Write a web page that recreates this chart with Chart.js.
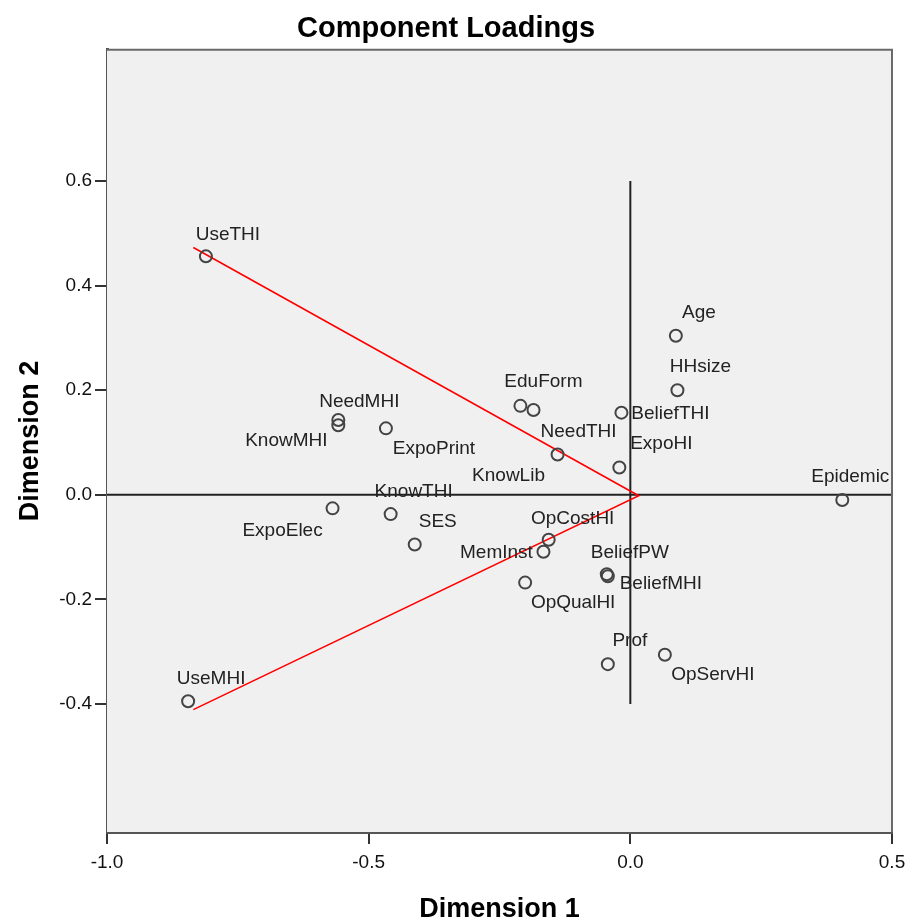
<!DOCTYPE html>
<html lang="en">
<head>
<meta charset="UTF-8">
<title>Component Loadings</title>
<script src="https://cdn.jsdelivr.net/npm/chart.js"></script>
<style>
  html, body { margin: 0; padding: 0; background: #fff; }
</style>
</head>
<body>
<canvas id="loadingsChart" width="907" height="922"></canvas>
<script>
// Variables and their loadings on the two dimensions
const variables = ['UseTHI', 'UseMHI', 'NeedMHI', 'KnowMHI', 'ExpoPrint', 'ExpoElec', 'KnowTHI', 'SES',
    'EduForm', 'KnowLib', 'NeedTHI', 'ExpoHI', 'BeliefTHI', 'Age', 'HHsize', 'Epidemic',
    'OpCostHI', 'MemInst', 'BeliefPW', 'BeliefMHI', 'OpQualHI', 'Prof', 'OpServHI'];
const dim1 = [-0.811, -0.845, -0.558, -0.558, -0.467, -0.569, -0.458, -0.412,
    -0.210, -0.185, -0.139, -0.021, -0.017, 0.087, 0.090, 0.405,
    -0.156, -0.166, -0.045, -0.043, -0.201, -0.043, 0.066];
const dim2 = [0.456, -0.395, 0.143, 0.133, 0.127, -0.026, -0.037, -0.095,
    0.170, 0.162, 0.077, 0.052, 0.157, 0.304, 0.200, -0.010,
    -0.086, -0.109, -0.152, -0.156, -0.168, -0.324, -0.306];

// Red vector lines
const vectorX = [-0.835, 0.016, -0.835];
const vectorY = [0.473, -0.002, -0.411];

// Reference lines through the origin
const hLineX = [-1.0, 0.5];
const vLineY = [-0.4, 0.6];

// Axis ticks
const xTicks = [-1.0, -0.5, 0.0, 0.5];
const yTicks = [-0.4, -0.2, 0.0, 0.2, 0.4, 0.6];

// Label placement (pixels, relative to each point)
const labelOffsets = [[22, -22], [23, -23], [21, -18], [-52, 16], [48, 20], [-50, 22], [23, -22], [23, -23],
    [23, -24], [-25, 66], [21, -23], [42, -24], [49, 1], [23, -23], [23, -23], [8, -23],
    [24, -21], [-47, 1], [23, -21], [53, 7], [48, 20], [22, -23], [48, 20]];

const FONT = '"Liberation Sans", Arial, sans-serif';

// Plot background and frame
const plotFrame = {
    id: 'plotFrame',
    beforeDatasetsDraw(chart) {
        const a = chart.chartArea;
        const ctx = chart.ctx;
        ctx.save();
        ctx.fillStyle = '#f0f0f0';
        ctx.fillRect(a.left, a.top, a.right - a.left, a.bottom - a.top);
        ctx.restore();
    },
    afterDraw(chart) {
        const a = chart.chartArea;
        const ctx = chart.ctx;
        ctx.save();
        ctx.strokeStyle = '#6a6a6a';
        ctx.lineWidth = 2;
        ctx.beginPath();
        ctx.moveTo(a.left, a.top);
        ctx.lineTo(a.right, a.top);
        ctx.lineTo(a.right, a.bottom);
        ctx.stroke();
        ctx.restore();
    }
};

// Variable name next to each point
const pointLabels = {
    id: 'pointLabels',
    afterDatasetsDraw(chart) {
        const meta = chart.getDatasetMeta(0);
        const ctx = chart.ctx;
        ctx.save();
        ctx.font = '19px ' + FONT;
        ctx.fillStyle = '#222';
        ctx.textAlign = 'center';
        ctx.textBaseline = 'middle';
        meta.data.forEach((pt, i) => {
            const off = labelOffsets[i];
            ctx.fillText(variables[i], pt.x + off[0], pt.y + off[1]);
        });
        ctx.restore();
    }
};

new Chart(document.getElementById('loadingsChart'), {
    type: 'scatter',
    data: {
        datasets: [
            {
                label: 'Loadings',
                data: variables.map((v, i) => ({ x: dim1[i], y: dim2[i] })),
                pointRadius: 6,
                pointHoverRadius: 6,
                borderWidth: 2,
                borderColor: '#444',
                backgroundColor: 'rgba(0,0,0,0)',
                order: 1
            },
            {
                label: 'Vectors',
                type: 'line',
                data: vectorX.map((x, i) => ({ x: x, y: vectorY[i] })),
                borderColor: '#ff0000',
                borderWidth: 1.6,
                pointRadius: 0,
                fill: false,
                order: 2
            },
            {
                label: 'Horizontal',
                type: 'line',
                data: hLineX.map(x => ({ x: x, y: 0 })),
                borderColor: '#222',
                borderWidth: 2,
                pointRadius: 0,
                order: 3
            },
            {
                label: 'Vertical',
                type: 'line',
                data: vLineY.map(y => ({ x: 0, y: y })),
                borderColor: '#222',
                borderWidth: 2,
                pointRadius: 0,
                order: 3
            }
        ]
    },
    options: {
        responsive: false,
        animation: false,
        events: [],
        layout: { padding: { left: 0, right: 15, top: 0, bottom: 0 } },
        plugins: {
            legend: { display: false },
            tooltip: { enabled: false },
            title: {
                display: true,
                text: 'Component Loadings',
                color: '#000',
                font: { family: FONT, size: 29, weight: 'bold', lineHeight: 1.2 },
                padding: { top: 12, bottom: 3 }
            }
        },
        scales: {
            x: {
                type: 'linear',
                min: -1.0,
                max: 0.5,
                afterBuildTicks: scale => { scale.ticks = xTicks.map(v => ({ value: v })); },
                afterFit: scale => {
                    scale.height = 90;
                    scale.paddingLeft = 0;
                    scale.paddingRight = 0;
                },
                ticks: {
                    color: '#111',
                    font: { family: FONT, size: 19 },
                    padding: 7,
                    callback: v => v.toFixed(1)
                },
                grid: { drawOnChartArea: false, drawTicks: true, tickLength: 12, color: '#333', lineWidth: 2 },
                border: { display: true, color: '#555', width: 3 },
                title: {
                    display: true,
                    text: 'Dimension 1',
                    color: '#000',
                    font: { family: FONT, size: 27, weight: 'bold', lineHeight: 0.95 },
                    padding: { top: 0, bottom: 0 }
                }
            },
            y: {
                type: 'linear',
                min: -0.645,
                max: 0.851,
                afterBuildTicks: scale => { scale.ticks = yTicks.map(v => ({ value: v })); },
                afterFit: scale => { scale.width = 107; },
                ticks: {
                    color: '#111',
                    font: { family: FONT, size: 19 },
                    padding: 3,
                    callback: v => v.toFixed(1)
                },
                grid: { drawOnChartArea: false, drawTicks: true, tickLength: 12, color: '#333', lineWidth: 2 },
                border: { display: true, color: '#555', width: 3 },
                title: {
                    display: true,
                    text: 'Dimension 2',
                    color: '#000',
                    font: { family: FONT, size: 27, weight: 'bold', lineHeight: 1 },
                    padding: { top: 17, bottom: 0 }
                }
            }
        }
    },
    plugins: [plotFrame, pointLabels]
});
</script>
</body>
</html>
